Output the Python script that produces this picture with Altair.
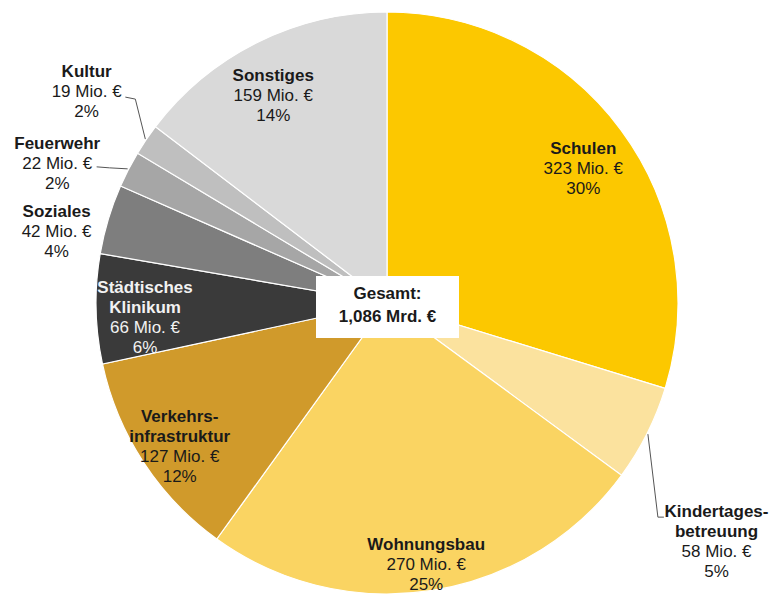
import altair as alt
import pandas as pd
import numpy as np

# ---- data ----
CATEGORIES = ["Schulen", "Kindertagesbetreuung", "Wohnungsbau", "Verkehrsinfrastruktur",
              "Städtisches Klinikum", "Soziales", "Feuerwehr", "Kultur", "Sonstiges"]
NAME_LINES = ["Schulen", "Kindertages-\nbetreuung", "Wohnungsbau", "Verkehrs-\ninfrastruktur",
              "Städtisches\nKlinikum", "Soziales", "Feuerwehr", "Kultur", "Sonstiges"]
VALUES = [323, 58, 270, 127, 66, 42, 22, 19, 159]          # Mio. €
PERCENTS = [30, 5, 25, 12, 6, 4, 2, 2, 14]
COLORS = ["#FCC800", "#FBE29E", "#FAD462", "#D09A2B", "#3A3A3A",
          "#7E7E7E", "#A6A6A6", "#BFBFBF", "#D9D9D9"]

# ---- layout (style, not data) ----
W, H = 762, 587
CX, CY = 379, 295
R = 291
FONT = "Liberation Sans"
FS = 17
LH = 20
# label radius, dx, dy (anchor = gap between name and value lines)
LAYOUT = {
    "Schulen": (244, 0, 1),
    "Kindertagesbetreuung": (380, -10, 68),
    "Wohnungsbau": (252, 0, 3),
    "Verkehrsinfrastruktur": (250, 2, 7),
    "Städtisches Klinikum": (242, 0, 10),
    "Soziales": (345, 0, 18),
    "Feuerwehr": (360, -10, 16),
    "Kultur": (375, 10, -11),
    "Sonstiges": (245, -5, 3),
}
# leader line offsets from the slice's outer edge point
LEADERS = {
    "Kultur": [(-10, -40), (-20, -42)],
    "Feuerwehr": [(-18, -1), (-31, -2)],
    "Kindertagesbetreuung": [(10, 83), (16, 83)],
}

df = pd.DataFrame({
    "idx": list(range(len(CATEGORIES))),
    "cat": CATEGORIES,
    "name": NAME_LINES,
    "value": VALUES,
    "vlabel": [f"{v} Mio. €\n{p}%" for v, p in zip(VALUES, PERCENTS)],
})

base = alt.Chart(df).encode(
    theta=alt.Theta("value:Q", stack=True),
    order=alt.Order("idx:Q"),
    x=alt.value(CX),
    y=alt.value(CY),
)

pie = base.mark_arc(outerRadius=R, stroke="white", strokeWidth=1.2).encode(
    color=alt.Color("cat:N", scale=alt.Scale(domain=CATEGORIES, range=COLORS), legend=None),
)

layers = [pie]
for cat, nm in zip(CATEGORIES, NAME_LINES):
    r, dx, dy = LAYOUT[cat]
    n = nm.count("\n") + 1
    col = "#F2F2F2" if cat == "Städtisches Klinikum" else "#1A1A1A"
    name_layer = base.mark_text(
        radius=r, dx=dx, dy=dy - LH / 2 - LH * (n - 1), font=FONT, fontSize=FS,
        fontWeight="bold", lineBreak="\n", lineHeight=LH, align="center",
        baseline="middle", color=col,
    ).encode(
        detail="cat:N",
        text=alt.condition(alt.datum.cat == cat, alt.Text("name:N"), alt.value("")),
    )
    val_layer = base.mark_text(
        radius=r, dx=dx, dy=dy + LH / 2, font=FONT, fontSize=FS,
        lineBreak="\n", lineHeight=LH, align="center", baseline="middle", color=col,
    ).encode(
        detail="cat:N",
        text=alt.condition(alt.datum.cat == cat, alt.Text("vlabel:N"), alt.value("")),
    )
    layers += [name_layer, val_layer]

# leader lines: from slice edge (angle from data) to the label
total = float(sum(VALUES))
cum = np.cumsum(VALUES)
rows = []
for cat, offs in LEADERS.items():
    i = CATEGORIES.index(cat)
    mid = (cum[i] - VALUES[i] / 2) / total * 2 * np.pi
    ex, ey = CX + (R + 1) * np.sin(mid), CY - (R + 1) * np.cos(mid)
    pts = [(ex, ey)] + [(ex + ox, ey + oy) for ox, oy in offs]
    for k, (px, py) in enumerate(pts):
        rows.append({"cat": cat, "k": k, "px": px, "py": py})
lead_df = pd.DataFrame(rows)
leaders = alt.Chart(lead_df).mark_line(color="#555555", strokeWidth=1).encode(
    x=alt.X("px:Q", scale=None, axis=None),
    y=alt.Y("py:Q", scale=None, axis=None),
    detail="cat:N",
    order="k:Q",
)
layers.append(leaders)

# total box in the centre
total_txt = f"{total / 1000:.3f}".replace(".", ",") + " Mrd. €"
tot_df = pd.DataFrame({"t": ["Gesamt:\n" + total_txt]})
box = alt.Chart(tot_df).mark_rect(color="white").encode(
    x=alt.value(CX - 71), x2=alt.value(CX + 72), y=alt.value(CY - 27), y2=alt.value(CY + 35),
)
box_text = alt.Chart(tot_df).mark_text(
    font=FONT, fontSize=FS, fontWeight="bold", lineBreak="\n", lineHeight=23,
    align="center", baseline="middle", color="#1A1A1A",
).encode(x=alt.value(CX + 0.5), y=alt.value(CY - 9), text="t:N")
layers += [box, box_text]

chart = alt.layer(*layers).properties(
    width=W, height=H, autosize=alt.AutoSizeParams(type="none"), padding=0,
    background="white",
).configure_view(strokeWidth=0)

chart.save("out.html", embed_options={"renderer": "svg", "actions": False})
